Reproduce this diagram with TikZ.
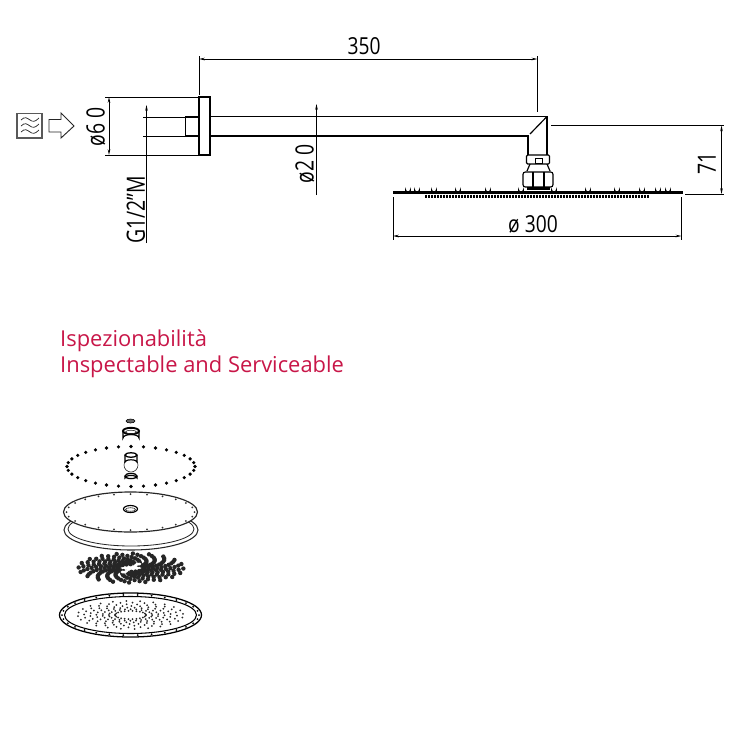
\documentclass[tikz,border=0pt]{standalone}
\usepackage{fontspec}
\setmainfont{Open Sans}
\usetikzlibrary{arrows.meta}
\definecolor{inspectred}{RGB}{200,22,72}
\tikzset{
  part/.style={black, line width=1pt},
  thin part/.style={black!85, line width=0.5pt},
  dimline/.style={black, line width=0.65pt},
  dimarrow/.style={dimline, {Stealth[length=5pt,width=2.2pt]}-{Stealth[length=5pt,width=2.2pt]}},
  dimtext/.style={inner sep=0pt, font=\fontsize{20}{20}\selectfont, xscale=0.82},
  dimside/.style={rotate=90, inner sep=0pt, font=\fontsize{21.5}{21.5}\selectfont, xscale=0.77},
  headline/.style={inner sep=0pt, anchor=base west, text=inspectred, font=\fontsize{18.7}{18.7}\selectfont}
}
\begin{document}
\begin{tikzpicture}[x=0.03cm, y=-0.03cm]
\useasboundingbox (0,0) rectangle (750,750);
% inlet symbol
\draw[black!65, line width=1pt] (17,113.5) rectangle (42,138);
\foreach \yy in {120,126,132} {
  \draw[black!85, line width=0.6pt] (21,\yy) .. controls (25,\yy-4) and (27,\yy-2) .. (30,\yy) .. controls (33,\yy+2) and (35,\yy+2) .. (39,\yy-2);
}
\draw[black!85, line width=0.8pt] (49,119.5) -- (61,119.5) -- (61,113) -- (74,126) -- (61,138) -- (61,132) -- (49,132) -- cycle;
% wall flange and arm
\draw[part] (199,97) rectangle (210,155);
\draw[part, line width=1.4pt] (199,117) -- (185.5,117) -- (185.5,136) -- (199,136);
\draw[part] (210,116.5) -- (547,116.5) -- (547,155);
\draw[part] (210,136) -- (528,136) -- (528,155);
\draw[part] (547,116.5) -- (530,134);
% nut under the arm
\draw[part, rounded corners=1pt] (526.5,155) rectangle (549.5,164);
\draw[part, line width=0.8pt] (535,158) rectangle (542,163);
\draw[part] (530,164) -- (527,171) (547,164) -- (550,171);
\draw[part, rounded corners=2pt] (523,172) rectangle (553,187);
\draw[part] (533,172) -- (533,187) (544,172) -- (544,187);
\draw[line width=2pt] (527,188.5) -- (550,188.5);
% shower plate
\foreach \xx in {408,417,434,458,488,521,554,588,617,642,658,668} {
  \draw[part, line width=0.8pt, fill=white] (\xx-2.5,191) -- (\xx-2.5,189.5) arc (180:0:2.5) -- (\xx+2.5,191);
}
\draw[black, line width=2.2pt] (393,192.5) -- (683,192.5);
\foreach \xx in {426,429,...,650} {
  \draw[black, line width=0.9pt] (\xx,194.5) -- (\xx,197.5);
}
% dimensions
\draw[dimline] (105,97) -- (199,97);
\draw[dimline] (105,155) -- (198,155);
\draw[dimarrow] (109,97) -- (109,155);
\node[dimside] (dia60) at (96,127) {ø6 0};
\draw[dimline] (143,117) -- (185,117);
\draw[dimline] (143,136) -- (185,136);
\draw[dimline, -{Stealth[length=5pt,width=2.2pt]}] (146.5,243) -- (146.5,105);
\node[dimside] (thread) at (136,210) {G1/2"M};
\draw[dimline, -{Stealth[length=5pt,width=2.2pt]}] (316.5,195) -- (316.5,104);
\node[dimside] (dia20) at (305,164) {ø2 0};
\draw[dimline] (199,56) -- (199,95);
\draw[dimline] (537.5,56) -- (537.5,112);
\draw[dimarrow] (199,59) -- (537.5,59);
\node[dimtext] (len350) at (364,46) {350};
\draw[dimline] (551,125.5) -- (724,125.5);
\draw[dimline] (685,194) -- (724,194);
\draw[dimarrow] (721.5,125.5) -- (721.5,194);
\node[dimside] (hgt71) at (707,163) {71};
\draw[dimline] (393,197) -- (393,240);
\draw[dimline] (681.5,197) -- (681.5,240);
\draw[dimarrow] (393,236) -- (681.5,236);
\node[dimtext] (dia300) at (533,224) {ø 300};
% heading
\node[headline] (titleit) at (60,346) {Ispezionabilità};
\node[headline] (titleen) at (60,372) {Inspectable and Serviceable};
% exploded view, top to bottom
\draw[black, fill=black!60, line width=0.5pt] (130.5,421) ellipse (4.5 and 2);
\draw[part] (123,431) -- (123,438) arc (180:0:8 and -3.5) -- (139,431);
\draw[part, line width=1.6pt] (131,431) ellipse (8 and 3.2);
\draw[thin part] (131,432) ellipse (5.5 and 1.8);
\foreach \aa in {0,11.25,...,349} {
  \fill[black] ({131+64*cos(\aa)},{466.5+20*sin(\aa)}) circle (1.8);
}
\draw[thin part] (131,465) circle (7);
\draw[part, fill=white] (125,455) -- (125,462) arc (180:0:6 and -2.2) -- (137,455);
\draw[part, line width=1.1pt] (131,455) ellipse (6 and 2.2);
\draw[part, fill=white] (125,476) -- (125,478) arc (180:0:6 and -2.6) -- (137,476);
\draw[part, line width=1.1pt] (131,476) ellipse (6 and 2.6);
% seal ring and plate
\draw[thin part, fill=white, line width=0.9pt] (131,530) ellipse (67 and 20);
\draw[thin part, fill=white, line width=0.7pt] (131,529) ellipse (63 and 17);
\draw[thin part, fill=white, line width=1pt] (130.5,512) ellipse (67 and 20);
\foreach \aa in {0,15,...,345} {
  \fill[black!80] ({130.5+64*cos(\aa)},{512+18*sin(\aa)}) circle (1);
}
\draw[part] (130.5,509) ellipse (7 and 3.5);
\draw[thin part] (130.5,509.5) ellipse (5 and 1.8);
% rubber nozzles
\foreach \aa in {0,18,...,342} {
  \foreach \ff in {0.25,0.33,...,1.0} {
    \fill[black!85] ({131+54*\ff*cos(\aa+70*(1-\ff))},{568+15*\ff*sin(\aa+70*(1-\ff))}) circle (2.2);
  }
}
% white swirl in the middle of the nozzles
\draw[white, line width=2.2pt, line cap=round] (122,572) .. controls (127,574) and (128,567) .. (131,568) .. controls (134,569) and (135,563) .. (140,564);
% bottom plate with its holes
\draw[black, line width=1.1pt] (130.5,615) ellipse (71 and 22);
\draw[black, line width=0.9pt] (130.5,615) ellipse (66 and 18.5);
\foreach \aa in {0,12,...,348} {
  \fill[black] ({130.5+68.5*cos(\aa)},{615+20.2*sin(\aa)}) circle (1);
}
\foreach \aa in {0,15,...,345} {
  \foreach \ff in {0.25,0.35,...,0.95} {
    \fill[black!85] ({130.5+62*\ff*cos(\aa+70*(1-\ff))},{615+16.5*\ff*sin(\aa+70*(1-\ff))}) circle (1);
  }
}
\end{tikzpicture}
\end{document}
